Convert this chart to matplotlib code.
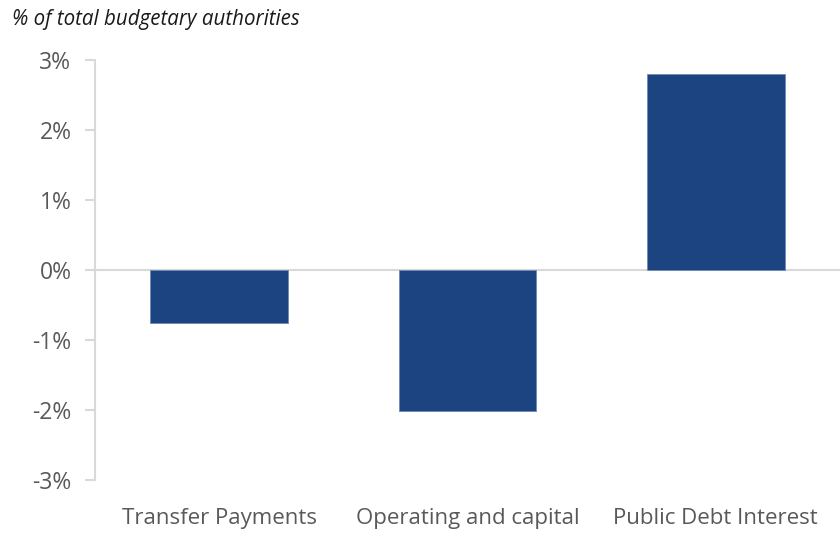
import matplotlib
matplotlib.use("Agg")
import matplotlib.pyplot as plt

categories = ["Transfer Payments", "Operating and capital", "Public Debt Interest"]
values = [-0.75, -2.02, 2.80]
yticks = [-3, -2, -1, 0, 1, 2, 3]
ytick_labels = ["-3%", "-2%", "-1%", "0%", "1%", "2%", "3%"]
title = "% of total budgetary authorities"

plt.rcParams['font.family'] = ['Open Sans', 'DejaVu Sans']

fig = plt.figure(figsize=(8.4, 5.33), dpi=100)
ax = fig.add_axes([95/840, 1-480/533, 1-95/840, 420/533])

x = list(range(len(categories)))
ax.bar(x, values, width=0.555, color="#1c4481", edgecolor="#6f8bb5", linewidth=0.6, zorder=3)
ax.axhline(0, color="#d9d9d9", linewidth=1.5, zorder=2)

ax.set_xlim(-0.5, len(categories) - 0.5)
ax.set_ylim(-3, 3)
ax.set_yticks(yticks)
ax.set_yticklabels(ytick_labels)
ax.set_xticks(x)
ax.set_xticklabels(categories)

for s in ["top", "right", "bottom"]:
    ax.spines[s].set_visible(False)
ax.spines["left"].set_color("#d9d9d9")
ax.spines["left"].set_linewidth(1.5)

ax.tick_params(axis="y", colors="#d9d9d9", labelcolor="#595959", labelsize=16.5,
               length=7, width=1.5, pad=10)
ax.tick_params(axis="x", length=0, labelcolor="#595959", labelsize=16, pad=20)

fig.text(12/840, 1-19/533, title, fontsize=14.8, style="italic", color="#1a1a1a",
         ha="left", va="center")

fig.savefig("out.png", dpi=100)
